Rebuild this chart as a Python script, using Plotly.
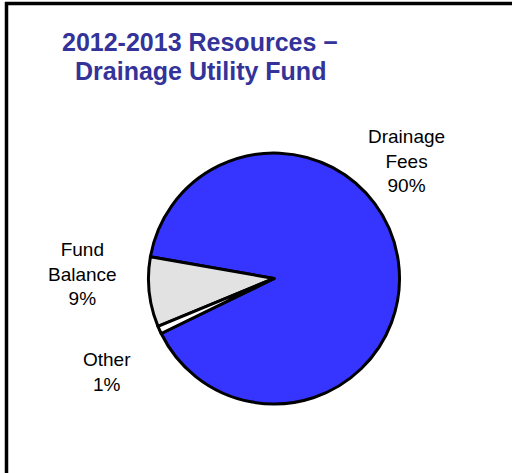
import plotly.graph_objects as go

W, H = 512, 473

# ---- data ----
labels = ["Drainage Fees", "Fund Balance", "Other"]
label_lines = [["Drainage", "Fees"], ["Fund", "Balance"], ["Other"]]
values = [90, 9, 1]
percents = ["90%", "9%", "1%"]
title_lines = ["2012-2013 Resources \u2212", "Drainage Utility Fund"]

# ---- style ----
colors = ["#3535ff", "#e2e2e2", "#ffffff"]
label_pos = [(406, 161), (82.5, 273.5), (107, 372)]   # pixel centres of label blocks
title_pos = [(200, 41.5), (200, 70.5)]

def px(x):
    return x / W

def py(y):
    return 1 - y / H

cx, cy, r = 274, 278.5, 125.5

fig = go.Figure(go.Pie(
    labels=labels,
    values=values,
    sort=False,
    direction="counterclockwise",
    rotation=-80,
    textinfo="none",
    hoverinfo="label+percent",
    marker=dict(colors=colors, line=dict(color="#000000", width=3)),
    domain=dict(x=[px(cx - r), px(cx + r)], y=[py(cy + r), py(cy - r)]),
    showlegend=False,
))

annotations = []
for lines, pct, (x, y) in zip(label_lines, percents, label_pos):
    annotations.append(dict(
        x=px(x), y=py(y), xref="paper", yref="paper",
        text="<br>".join(lines + [pct]), showarrow=False,
        xanchor="center", yanchor="middle", align="center",
        font=dict(family="Arial, Liberation Sans, sans-serif", size=19, color="#000000"),
    ))
for line, (x, y) in zip(title_lines, title_pos):
    annotations.append(dict(
        x=px(x), y=py(y), xref="paper", yref="paper",
        text="<b>" + line + "</b>", showarrow=False,
        xanchor="center", yanchor="middle",
        font=dict(family="Arial, Liberation Sans, sans-serif", size=25, color="#333399"),
    ))

shapes = [
    dict(type="line", xref="paper", yref="paper", x0=px(5), x1=px(W + 10), y0=py(3.5), y1=py(3.5),
         line=dict(color="#000000", width=3.5)),
    dict(type="line", xref="paper", yref="paper", x0=px(6.5), x1=px(6.5), y0=py(2), y1=py(H + 10),
         line=dict(color="#000000", width=3.5)),
]

fig.update_layout(
    width=W, height=H,
    margin=dict(l=0, r=0, t=0, b=0),
    paper_bgcolor="#ffffff",
    plot_bgcolor="#ffffff",
    annotations=annotations,
    shapes=shapes,
)

fig.write_html(
    "out.html",
    config={"displayModeBar": False},
    post_script="document.body.style.margin='0';document.body.style.overflow='hidden';",
)
